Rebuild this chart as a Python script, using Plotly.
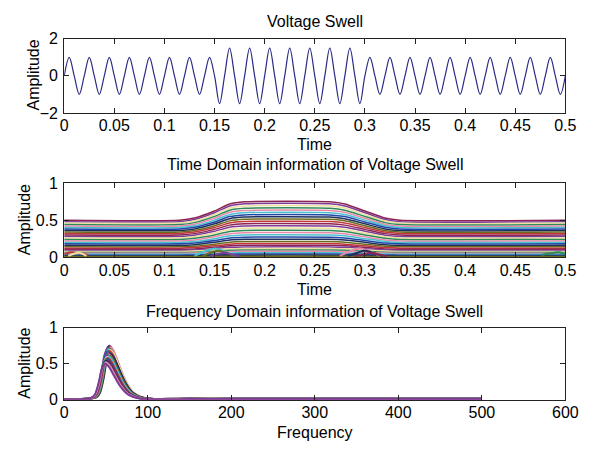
import plotly.graph_objects as go

# ---------------- data ----------------
# Panel 1: voltage swell signal (50 Hz), amplitude of each half cycle (0.01 s each)
half_cycle_amp = [1, 1, 1, 1, 1, 1, 1, 1, 1, 1, 1, 1, 1, 1, 1,
                  1.5, 1.5, 1.5, 1.5, 1.5, 1.5, 1.5, 1.5, 1.5, 1.5, 1.5, 1.5, 1.5, 1.5, 1.5,
                  1, 1, 1, 1, 1, 1, 1, 1, 1, 1, 1, 1, 1, 1, 1, 1, 1, 1, 1, 1]
half_cycle_len = 0.01

# Panel 2: time-domain rows (level before/after swell) and swell envelope
row_levels = [0.50, 0.482, 0.462, 0.442, 0.422, 0.402, 0.382, 0.362, 0.342, 0.322,
              0.302, 0.282, 0.262, 0.242, 0.222, 0.202, 0.182, 0.162, 0.142, 0.124,
              0.108, 0.094, 0.080, 0.066, 0.054, 0.042, 0.030, 0.020, 0.010]
env_t = [0, 0.115, 0.13, 0.15, 0.165, 0.18, 0.265, 0.28, 0.30, 0.32, 0.335, 0.5]
env_m = [1, 1, 1.06, 1.25, 1.44, 1.5, 1.5, 1.44, 1.25, 1.06, 1, 1]

# transient bumps at the bottom of panel 2
bumps = [
    ([0.0, 0.006, 0.012, 0.018, 0.024], [0.04, 0.07, 0.06, 0.05, 0.03]),
    ([0.004, 0.01, 0.016, 0.022], [0.02, 0.05, 0.06, 0.02]),
    ([0.13, 0.14, 0.15, 0.16, 0.17], [0.02, 0.08, 0.12, 0.08, 0.02]),
    ([0.138, 0.146, 0.154, 0.162, 0.17], [0.02, 0.06, 0.09, 0.06, 0.02]),
    ([0.145, 0.152, 0.16, 0.167, 0.175], [0.01, 0.04, 0.06, 0.04, 0.01]),
    ([0.275, 0.285, 0.295, 0.305, 0.315], [0.02, 0.08, 0.12, 0.08, 0.02]),
    ([0.283, 0.292, 0.3, 0.308, 0.318], [0.02, 0.06, 0.09, 0.06, 0.02]),
    ([0.29, 0.298, 0.306, 0.314, 0.322], [0.01, 0.04, 0.06, 0.04, 0.01]),
    ([0.476, 0.482, 0.488, 0.494, 0.5], [0.03, 0.05, 0.06, 0.07, 0.04]),
]

# Panel 3: frequency-domain rows
fd_f = [0, 20, 30, 36, 40, 44, 48, 52, 56, 60, 65, 70, 75, 80, 90, 100, 150, 200, 300, 400, 500]
fd_shape = [0.012, 0.016, 0.03, 0.06, 0.16, 0.45, 0.85, 1.0, 0.93, 0.78, 0.57, 0.38,
            0.24, 0.14, 0.05, 0.022, 0.022, 0.024, 0.024, 0.024, 0.024]
fd_peaks = [0.75, 0.74, 0.73, 0.72, 0.71, 0.70, 0.69, 0.68, 0.67, 0.66, 0.65, 0.64,
            0.63, 0.62, 0.61, 0.60, 0.59, 0.58, 0.57, 0.56, 0.55, 0.54, 0.52, 0.50]
fd_shift = [2, 1, 3, 0, 2, 1, 3, 2, 0, 1, 2, 3, 1, 0, 2, 1, -1, 0, -1, -2, -1, -2, -2, -3]

palette = ['#8e2453', '#7d3c98', '#efe0a0', '#2e8b57', '#e889aa', '#4dc0d0',
           '#2048a8', '#1c2f5e', '#6b6b20', '#c03838']

# ---------------- figure ----------------
W, H = 590, 457
FONT = "Liberation Sans, Arial, sans-serif"
fig = go.Figure()

# panel 1 points: zero crossings and extrema
t1, v1 = [0.0], [0.0]
for h, a in enumerate(half_cycle_amp):
    sign = 1 if h % 2 == 0 else -1
    t1.append(h * half_cycle_len + half_cycle_len / 2)
    v1.append(sign * a)
    t1.append((h + 1) * half_cycle_len)
    v1.append(0.0)
fig.add_trace(go.Scatter(x=t1, y=v1, mode='lines', line=dict(color='#2b2b86', width=1.2, shape='spline', smoothing=1.0),
                         xaxis='x', yaxis='y', showlegend=False))

# panel 2
for i, lv in enumerate(row_levels):
    ys = [lv * m for m in env_m]
    fig.add_trace(go.Scatter(x=env_t, y=ys, mode='lines',
                             line=dict(color=palette[i % len(palette)], width=1.5, shape='spline', smoothing=0.6),
                             xaxis='x2', yaxis='y2', showlegend=False))
for j, (bt, bv) in enumerate(bumps):
    fig.add_trace(go.Scatter(x=bt, y=bv, mode='lines',
                             line=dict(color=palette[(j * 3 + 9) % len(palette)], width=2, shape='spline'),
                             xaxis='x2', yaxis='y2', showlegend=False))

# panel 3
for i, (pk, sh) in enumerate(zip(fd_peaks, fd_shift)):
    xs = [f + sh if 30 <= f <= 100 else f for f in fd_f]
    ys = [pk * s for s in fd_shape]
    fig.add_trace(go.Scatter(x=xs, y=ys, mode='lines',
                             line=dict(color=palette[(i * 7) % len(palette)], width=2, shape='spline', smoothing=0.8),
                             xaxis='x3', yaxis='y3', showlegend=False))

xd = [62 / W, 578 / W]
def ydom(top, bot):
    return [1 - bot / H, 1 - top / H]

axis_common = dict(showline=True, linecolor='#222222', linewidth=1, mirror='allticks', ticks='inside',
                   ticklen=5, tickcolor='#222222', showgrid=False, zeroline=False,
                   tickfont=dict(family=FONT, size=16, color='black'))

tv1 = [0, 0.05, 0.1, 0.15, 0.2, 0.25, 0.3, 0.35, 0.4, 0.45, 0.5]
tl1 = ['0', '0.05', '0.1', '0.15', '0.2', '0.25', '0.3', '0.35', '0.4', '0.45', '0.5']

XS = -2
YS = 2
fig.update_layout(
    width=W, height=H, margin=dict(l=0, r=0, t=0, b=0),
    paper_bgcolor='white', plot_bgcolor='white', showlegend=False,
    xaxis=dict(domain=xd, range=[0, 0.5], tickvals=tv1, ticktext=tl1, anchor='y', ticklabelstandoff=XS, **axis_common),
    yaxis=dict(domain=ydom(32, 109), range=[-2, 2], tickvals=[-2, 0, 2], anchor='x', ticklabelstandoff=YS, **axis_common),
    xaxis2=dict(domain=xd, range=[0, 0.5], tickvals=tv1, ticktext=tl1, anchor='y2', ticklabelstandoff=XS, **axis_common),
    yaxis2=dict(domain=ydom(182, 259), range=[0, 1], tickvals=[0, 0.5, 1], anchor='x2', ticklabelstandoff=YS, **axis_common),
    xaxis3=dict(domain=xd, range=[0, 600], tickvals=[0, 100, 200, 300, 400, 500, 600], anchor='y3', ticklabelstandoff=XS, **axis_common),
    yaxis3=dict(domain=ydom(332, 407), range=[0, 1], tickvals=[0, 0.5, 1], anchor='x3', ticklabelstandoff=YS, **axis_common),
)

cx = 320 / W
ann = []
def add_text(txt, x, y, angle=0):
    ann.append(dict(text=txt, x=x, y=1 - y / H, xref='paper', yref='paper', showarrow=False,
                    xanchor='center', yanchor='middle', textangle=angle,
                    font=dict(family=FONT, size=16, color='black')))

add_text('Voltage Swell', cx, 14)
add_text('Time Domain information of Voltage Swell', cx, 163)
add_text('Frequency Domain information of Voltage Swell', cx, 315)
add_text('Time', cx, 142)
add_text('Time', cx, 292)
add_text('Frequency', cx, 441)
add_text('Amplitude', 30 / W, 70, -90)
add_text('Amplitude', 21 / W, 220, -90)
add_text('Amplitude', 21 / W, 369, -90)
fig.update_layout(annotations=ann)

fig.write_html("out.html")
